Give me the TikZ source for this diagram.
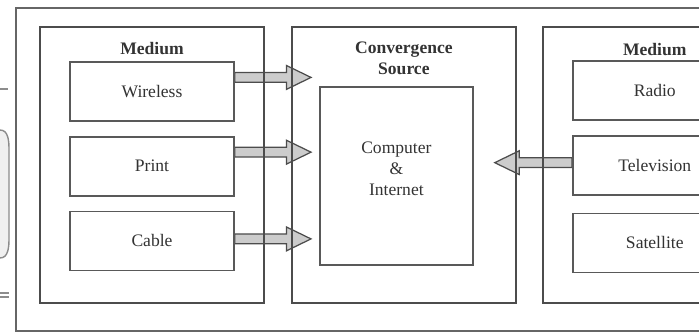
\documentclass[tikz,border=0pt]{standalone}
\usepackage{fontspec}
\setmainfont{Liberation Serif}
\usepackage{tikz}
\usepackage{xcolor}
\usetikzlibrary{positioning, calc, backgrounds}
\tikzstyle{frame} = [draw=black!60, line width=1.3pt]
\tikzstyle{group} = [rectangle, minimum width=4.48cm, minimum height=5.52cm, draw=black!70, line width=1.1pt]
\tikzstyle{medium} = [rectangle, minimum width=3.28cm, minimum height=1.18cm, text centered, draw=black!65, line width=1pt, fill=white, text=black!80]
\tikzstyle{title} = [font=\bfseries, align=center, text=black!80]
\tikzstyle{scrap} = [draw=black!45, line width=0.8pt]
\tikzstyle{fatarrow} = [draw=black!70, fill=gray!40, line width=0.7pt, line join=miter,
    to path={let \p1=(\tikztostart), \p2=(\tikztotarget), \n1={sign(\x2-\x1)} in
      (\x1,\y1+2.8pt) -- ({\x2-(\n1)*14pt},\y1+2.8pt) -- ({\x2-(\n1)*14pt},\y1+6.8pt)
      -- (\x2,\y1) -- ({\x2-(\n1)*14pt},\y1-6.8pt) -- ({\x2-(\n1)*14pt},\y1-2.8pt)
      -- (\x1,\y1-2.8pt) -- cycle}]

\begin{document}
\begin{tikzpicture}[x=0.02cm, y=-0.02cm]
\useasboundingbox (0,0) rectangle (699,334);
\clip (0,0) rectangle (699,334);

% scraps of the neighbouring figure
\draw[scrap] (0,89) -- (8,89);
\draw[scrap, fill=black!6] (-10,130) -- (0,130) to[out=0,in=90] (9,150) -- (9,238) to[out=-90,in=0] (0,258) -- (-10,258);
\draw[scrap] (0,293) -- (9,293) (0,297) -- (9,297);

% outer frame
\draw[frame] (16,8) rectangle (780,331);

% Left medium
\node (medL) [group] at (152,165) {};
\node (medL-title) [title, below=0.2cm of medL.north] {Medium};
\node (wireless) [medium, below=0.7cm of medL.north] {Wireless};
\node (print) [medium, below=0.28cm of wireless] {Print};
\node (cable) [medium, below=0.28cm of print] {Cable};

% Convergence
\node (conv) [group, right=0.52cm of medL] {};
\node (conv-title) [title, below=0.2cm of conv.north] {Convergence\\Source};
\node (comp) [rectangle, draw=black!65, line width=1pt, minimum width=3.06cm, minimum height=3.56cm, below=1.2cm of conv.north, xshift=-0.15cm] {};
\node (comp-text) [align=center, text=black!80] at ([yshift=0.14cm]comp.center) {Computer\\\&\\Internet};

% Right medium
\node (medR) [group, right=0.5cm of conv] {};
\node (medR-title) [title, below=0.22cm of medR.north] {Medium};
\node (radio) [medium, below=0.68cm of medR.north] {Radio};
\node (tv) [medium, below=0.28cm of radio] {Television};
\node (sat) [medium, below=0.34cm of tv] {Satellite};

% Arrows
\begin{scope}[on background layer]
\draw[fatarrow] ([yshift=0.28cm]wireless.east) to ($(wireless.east -| comp.west)+(-8,0)$);
\draw[fatarrow] ([yshift=0.28cm]print.east) to ($(print.east -| comp.west)+(-8,0)$);
\draw[fatarrow] ([yshift=0.04cm]cable.east) to ($(cable.east -| comp.west)+(-8,0)$);
\draw[fatarrow] ([yshift=0.05cm]tv.west) to ($(tv.west -| comp.east)+(21,0)$);
\end{scope}

\end{tikzpicture}
\end{document}
